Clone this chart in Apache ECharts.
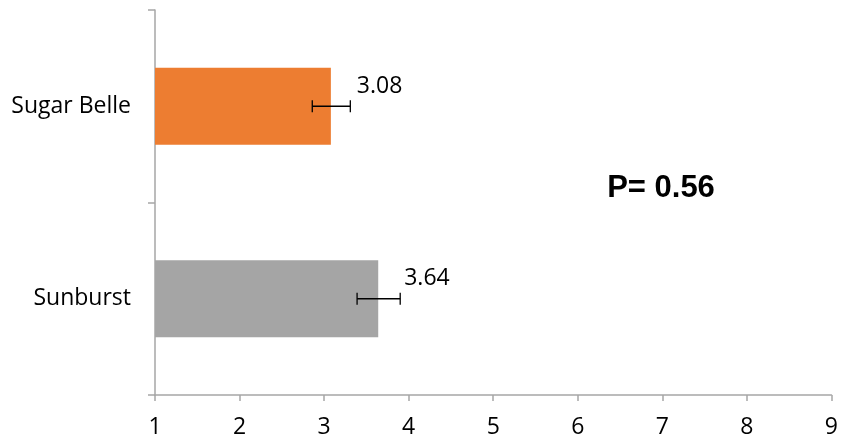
<!DOCTYPE html>
<html>
<head>
<meta charset="utf-8">
<script src="https://cdn.jsdelivr.net/npm/echarts@6/dist/echarts.min.js"></script>
<style>
  html, body { margin: 0; padding: 0; background: #fff; }
  #chart { width: 841px; height: 442px; }
</style>
</head>
<body>
<div id="chart"></div>
<script>
// categories bottom -> top (ECharts category y axis starts at the bottom)
const categories = ['Sunburst', 'Sugar Belle'];
const means = [3.64, 3.08];
const errLow = [3.39, 2.86];
const errHigh = [3.90, 3.31];
const barColors = ['#A5A5A5', '#ED7D31'];
const xTicks = [1, 2, 3, 4, 5, 6, 7, 8, 9];
const pText = 'P= 0.56';

const axisGray = '#A6A6A6';
const labelFont = '"Open Sans", "Noto Sans", sans-serif';

const myChart = echarts.init(document.getElementById('chart'));

myChart.setOption({
  animation: false,
  grid: { left: 155, right: 8, top: 10, bottom: 47 },
  xAxis: {
    type: 'value',
    min: xTicks[0],
    max: xTicks[xTicks.length - 1],
    interval: 1,
    axisLine: { show: true, lineStyle: { color: axisGray, width: 1.5 } },
    axisTick: { show: true, length: 6, lineStyle: { color: axisGray, width: 1.5 } },
    splitLine: { show: false },
    axisLabel: { color: '#000', fontSize: 23, fontFamily: labelFont, margin: 21 },
  },
  yAxis: {
    type: 'category',
    data: categories,
    axisLine: { show: true, lineStyle: { color: axisGray, width: 1.5 } },
    axisTick: { show: true, length: 7, lineStyle: { color: axisGray, width: 1.5 } },
    axisLabel: { color: '#000', fontSize: 23, fontFamily: labelFont, margin: 24 },
  },
  graphic: [
    {
      type: 'text',
      x: 661,
      y: 188,
      style: {
        text: pText,
        fill: '#000',
        align: 'center',
        verticalAlign: 'middle',
        font: 'bold 31px "Liberation Sans", Arial, sans-serif',
      },
    },
  ],
  series: [
    {
      type: 'bar',
      barWidth: '40%',
      data: means.map((v, i) => ({ value: v, itemStyle: { color: barColors[i] } })),
      label: {
        show: true,
        position: 'right',
        distance: 26,
        offset: [0, -20],
        color: '#000',
        fontSize: 23,
        fontFamily: labelFont,
      },
    },
    {
      type: 'custom',
      data: categories.map((c, i) => [i, errLow[i], errHigh[i]]),
      encode: { y: 0, x: [1, 2] },
      z: 5,
      renderItem: (params, api) => {
        const idx = api.value(0);
        const lo = api.coord([api.value(1), idx]);
        const hi = api.coord([api.value(2), idx]);
        const cap = 6;
        const style = { stroke: '#000', lineWidth: 1.3 };
        return {
          type: 'group',
          children: [
            { type: 'line', shape: { x1: lo[0], y1: lo[1], x2: hi[0], y2: hi[1] }, style },
            { type: 'line', shape: { x1: lo[0], y1: lo[1] - cap, x2: lo[0], y2: lo[1] + cap }, style },
            { type: 'line', shape: { x1: hi[0], y1: hi[1] - cap, x2: hi[0], y2: hi[1] + cap }, style },
          ],
        };
      },
    },
  ],
});
</script>
</body>
</html>
